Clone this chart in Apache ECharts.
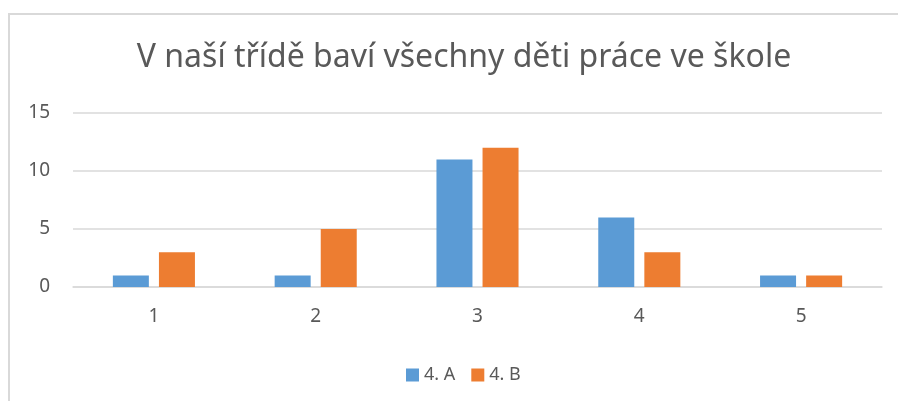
<!DOCTYPE html>
<html>
<head>
<meta charset="utf-8">
<script src="https://cdn.jsdelivr.net/npm/echarts@6/dist/echarts.min.js"></script>
<style>
  html, body { margin: 0; padding: 0; background: #fff; }
  #frame {
    position: absolute; left: 8px; top: 13px; width: 900px; height: 400px;
    border-left: 2px solid #d9d9d9; border-top: 2px solid #d9d9d9;
  }
  #chart { position: absolute; left: 0; top: 0; width: 898px; height: 401px; }
</style>
</head>
<body>
<div id="frame"></div>
<div id="chart"></div>
<script>
  var categories = ['1', '2', '3', '4', '5'];
  var seriesNames = ['4. A', '4. B'];
  var valuesA = [1, 1, 11, 6, 1];
  var valuesB = [3, 5, 12, 3, 1];

  var chart = echarts.init(document.getElementById('chart'));
  var textColor = '#595959';
  var font = '"Noto Sans", sans-serif';

  var option = {
    animation: false,
    title: {
      text: 'V naší třídě baví všechny děti práce ve škole',
      left: 459,
      textAlign: 'center',
      top: 37,
      textStyle: { color: textColor, fontSize: 32, fontWeight: 'normal', fontFamily: font }
    },
    legend: {
      data: seriesNames,
      left: 401,
      top: 361,
      itemWidth: 13,
      itemHeight: 13,
      itemGap: 16,
      icon: 'rect',
      textStyle: { color: textColor, fontSize: 18, fontFamily: font }
    },
    grid: { left: 73, right: 16, top: 113, bottom: 114 },
    xAxis: {
      type: 'category',
      data: categories,
      axisLine: { lineStyle: { color: '#d9d9d9', width: 1.5 } },
      axisTick: { show: false },
      axisLabel: { color: textColor, fontSize: 19, margin: 20, fontFamily: font }
    },
    yAxis: {
      type: 'value',
      min: 0,
      max: 15,
      interval: 5,
      axisLine: { show: false },
      axisTick: { show: false },
      splitLine: { lineStyle: { color: '#d9d9d9', width: 1.5 } },
      axisLabel: { color: textColor, fontSize: 19, margin: 23, fontFamily: font }
    },
    series: [
      {
        name: seriesNames[0],
        type: 'bar',
        data: valuesA,
        barWidth: 36,
        barGap: '28%',
        itemStyle: { color: '#5b9bd5' }
      },
      {
        name: seriesNames[1],
        type: 'bar',
        data: valuesB,
        barWidth: 36,
        barGap: '28%',
        itemStyle: { color: '#ed7d31' }
      }
    ]
  };

  chart.setOption(option);
</script>
</body>
</html>
